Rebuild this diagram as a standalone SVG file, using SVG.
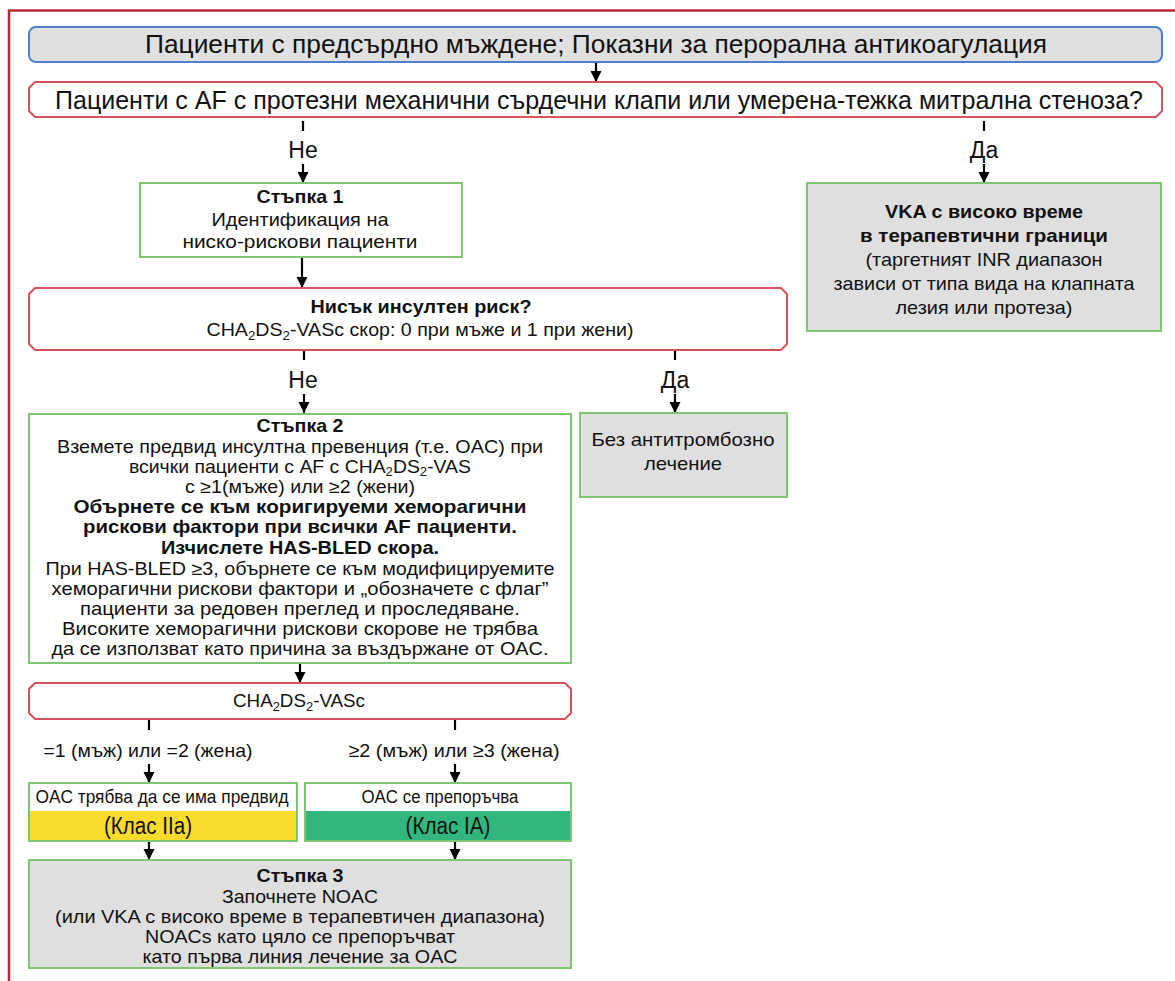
<svg xmlns="http://www.w3.org/2000/svg" width="1175" height="981" viewBox="0 0 1175 981">
  <style>
    text { font-family: "Liberation Sans", "Noto Sans", sans-serif; fill: #111; text-anchor: middle; }
    .b { font-weight: bold; }
    .big { font-size: 25px; }
    .lbl { font-size: 23px; }
    .t { font-size: 17.8px; }
    .s { font-size: 19px; }
    .dec { fill: #fff; stroke: #d9535f; stroke-width: 2; }
    .gbox { fill: #fff; stroke: #80c670; stroke-width: 2; }
    .ggrey { fill: #dfdfdf; stroke: #80c670; stroke-width: 2; }
    .conn line { stroke: #000; stroke-width: 2.2; }
    .tick { stroke: #000; stroke-width: 2.5; }
  </style>
  <defs>
    <marker id="ah" markerUnits="userSpaceOnUse" markerWidth="12" markerHeight="12" refX="11" refY="6" orient="auto">
      <path d="M0,0.5 L11,6 L0,11.5 Z" fill="#000"/>
    </marker>
  </defs>

  <!-- outer frame -->
  <g id="frame" fill="none" stroke="#b8283c" stroke-width="2.5">
    <path d="M9,981 L9,10.5 L1175,10.5"/>
  </g>

  <!-- connectors -->
  <g id="connectors" class="conn">
    <line x1="596" y1="62" x2="596" y2="82" marker-end="url(#ah)"/>
    <line class="tick" x1="303" y1="121" x2="303" y2="131"/>
    <text class="lbl" x="303" y="158">Не</text>
    <line x1="303" y1="164" x2="303" y2="183" marker-end="url(#ah)"/>
    <line class="tick" x1="984" y1="121" x2="984" y2="131"/>
    <text class="lbl" x="984" y="158">Да</text>
    <line x1="984" y1="164" x2="984" y2="183" marker-end="url(#ah)"/>
    <line x1="302" y1="257" x2="302" y2="288" marker-end="url(#ah)"/>
    <line class="tick" x1="304" y1="350" x2="304" y2="360"/>
    <text class="lbl" x="303" y="388">Не</text>
    <line x1="304" y1="394" x2="304" y2="413" marker-end="url(#ah)"/>
    <line class="tick" x1="675" y1="350" x2="675" y2="360"/>
    <text class="lbl" x="675" y="388">Да</text>
    <line x1="675" y1="394" x2="675" y2="413" marker-end="url(#ah)"/>
    <line x1="300" y1="663" x2="300" y2="683" marker-end="url(#ah)"/>
    <line class="tick" x1="149" y1="720" x2="149" y2="730"/>
    <text class="s" x="148" y="757" textLength="209" lengthAdjust="spacingAndGlyphs">=1 (мъж) или =2 (жена)</text>
    <line x1="149" y1="764" x2="149" y2="783" marker-end="url(#ah)"/>
    <line class="tick" x1="455" y1="720" x2="455" y2="730"/>
    <text class="s" x="454" y="757" textLength="211" lengthAdjust="spacingAndGlyphs">≥2 (мъж) или ≥3 (жена)</text>
    <line x1="455" y1="764" x2="455" y2="783" marker-end="url(#ah)"/>
    <line x1="149" y1="841" x2="149" y2="860" marker-end="url(#ah)"/>
    <line x1="455" y1="841" x2="455" y2="860" marker-end="url(#ah)"/>
  </g>

  <!-- start -->
  <g id="start">
    <rect x="29" y="27" width="1133" height="35" rx="7" fill="#e0e0e0" stroke="#4f80cc" stroke-width="2"/>
    <text class="big" x="596" y="53" textLength="902" lengthAdjust="spacingAndGlyphs">Пациенти с предсърдно мъждене;  Показни за перорална антикоагулация</text>
  </g>

  <!-- valve question -->
  <g id="valve-question">
    <path class="dec" d="M35,82 L1156,82 L1162,88 L1162,111 L1156,117 L35,117 L29,111 L29,88 Z"/>
    <text class="big" x="599" y="109" textLength="1088" lengthAdjust="spacingAndGlyphs">Пациенти с AF с протезни механични сърдечни клапи или умерена-тежка митрална стеноза?</text>
  </g>

  <!-- step 1 -->
  <g id="step1">
    <rect class="gbox" x="140" y="183" width="322" height="74"/>
    <text class="t b" x="300" y="203" textLength="87" lengthAdjust="spacingAndGlyphs">Стъпка 1</text>
    <text class="t" x="300" y="226" textLength="177" lengthAdjust="spacingAndGlyphs">Идентификация на</text>
    <text class="t" x="300" y="248" textLength="235" lengthAdjust="spacingAndGlyphs">ниско-рискови пациенти</text>
  </g>

  <!-- VKA -->
  <g id="vka">
    <rect class="ggrey" x="807" y="183" width="354" height="148"/>
    <text class="t b" x="984" y="218" textLength="198" lengthAdjust="spacingAndGlyphs">VKA с високо време</text>
    <text class="t b" x="984" y="242" textLength="248" lengthAdjust="spacingAndGlyphs">в терапевтични граници</text>
    <text class="t" x="984" y="266" textLength="237" lengthAdjust="spacingAndGlyphs">(таргетният INR диапазон</text>
    <text class="t" x="984" y="290" textLength="301" lengthAdjust="spacingAndGlyphs">зависи от типа вида на клапната</text>
    <text class="t" x="984" y="314" textLength="177" lengthAdjust="spacingAndGlyphs">лезия или протеза)</text>
  </g>

  <!-- low stroke risk question -->
  <g id="low-risk-question">
    <path class="dec" d="M35,288 L781,288 L787,294 L787,344 L781,350 L35,350 L29,344 L29,294 Z"/>
    <text class="t b" x="421" y="313" textLength="221" lengthAdjust="spacingAndGlyphs">Нисък инсултен риск?</text>
    <text class="t" x="420" y="336" textLength="427" lengthAdjust="spacingAndGlyphs">CHA<tspan font-size="12" dy="4">2</tspan><tspan dy="-4">DS</tspan><tspan font-size="12" dy="4">2</tspan><tspan dy="-4">-VASc скор: 0 при мъже и 1 при жени)</tspan></text>
  </g>

  <!-- no therapy -->
  <g id="no-therapy">
    <rect class="ggrey" x="580" y="413" width="207" height="84"/>
    <text class="t" x="683" y="446" textLength="183" lengthAdjust="spacingAndGlyphs">Без антитромбозно</text>
    <text class="t" x="683" y="470" textLength="78" lengthAdjust="spacingAndGlyphs">лечение</text>
  </g>

  <!-- step 2 -->
  <g id="step2">
    <rect class="gbox" x="29" y="414" width="542" height="249"/>
    <text class="t b" x="300" y="432" textLength="87" lengthAdjust="spacingAndGlyphs">Стъпка 2</text>
    <text class="t" x="300" y="453" textLength="486" lengthAdjust="spacingAndGlyphs">Вземете предвид инсултна превенция (т.е. OAC) при</text>
    <text class="t" x="300" y="473" textLength="342" lengthAdjust="spacingAndGlyphs">всички пациенти с AF с CHA<tspan font-size="12" dy="3">2</tspan><tspan dy="-3">DS</tspan><tspan font-size="12" dy="3">2</tspan><tspan dy="-3">-VAS</tspan></text>
    <text class="t" x="300" y="493" textLength="230" lengthAdjust="spacingAndGlyphs">с ≥1(мъже) или ≥2 (жени)</text>
    <text class="t b" x="300" y="513" textLength="453" lengthAdjust="spacingAndGlyphs">Обърнете се към коригируеми хеморагични</text>
    <text class="t b" x="300" y="533" textLength="434" lengthAdjust="spacingAndGlyphs">рискови фактори при всички AF пациенти.</text>
    <text class="t b" x="300" y="554" textLength="278" lengthAdjust="spacingAndGlyphs">Изчислете HAS-BLED скора.</text>
    <text class="t" x="300" y="575" textLength="509" lengthAdjust="spacingAndGlyphs">При HAS-BLED ≥3, обърнете се към модифицируемите</text>
    <text class="t" x="300" y="595" textLength="497" lengthAdjust="spacingAndGlyphs">хеморагични рискови фактори и „обозначете с флаг”</text>
    <text class="t" x="300" y="615" textLength="440" lengthAdjust="spacingAndGlyphs">пациенти за редовен преглед и проследяване.</text>
    <text class="t" x="300" y="635" textLength="476" lengthAdjust="spacingAndGlyphs">Високите хеморагични рискови скорове не трябва</text>
    <text class="t" x="300" y="655" textLength="497" lengthAdjust="spacingAndGlyphs">да се използват като причина за въздържане от OAC.</text>
  </g>

  <!-- CHA2DS2-VASc question -->
  <g id="score-question">
    <path class="dec" d="M35,683 L565,683 L571,689 L571,713 L565,719 L35,719 L29,713 L29,689 Z"/>
    <text class="s" x="299" y="707" textLength="132" lengthAdjust="spacingAndGlyphs">CHA<tspan font-size="13" dy="4">2</tspan><tspan dy="-4">DS</tspan><tspan font-size="13" dy="4">2</tspan><tspan dy="-4">-VASc</tspan></text>
  </g>

  <!-- class IIa -->
  <g id="class-iia">
    <rect x="29" y="783" width="268" height="58" fill="#fff" stroke="#80c670" stroke-width="2"/>
    <rect x="30" y="811" width="266" height="29" fill="#fbdb2c"/>
    <text class="s" x="162" y="803" textLength="253" lengthAdjust="spacingAndGlyphs">OAC трябва да се има предвид</text>
    <text class="lbl" x="148" y="834" textLength="88" lengthAdjust="spacingAndGlyphs">(Клас IIa)</text>
  </g>

  <!-- class IA -->
  <g id="class-ia">
    <rect x="305" y="783" width="266" height="58" fill="#fff" stroke="#80c670" stroke-width="2"/>
    <rect x="306" y="811" width="264" height="29" fill="#33b67d"/>
    <text class="s" x="440" y="803" textLength="157" lengthAdjust="spacingAndGlyphs">OAC се препоръчва</text>
    <text class="lbl" x="448" y="834" textLength="85" lengthAdjust="spacingAndGlyphs">(Клас IA)</text>
  </g>

  <!-- step 3 -->
  <g id="step3">
    <rect class="ggrey" x="29" y="860" width="542" height="108"/>
    <text class="t b" x="300" y="882" textLength="87" lengthAdjust="spacingAndGlyphs">Стъпка 3</text>
    <text class="t" x="300" y="903" textLength="156" lengthAdjust="spacingAndGlyphs">Започнете NOAC</text>
    <text class="t" x="300" y="923" textLength="490" lengthAdjust="spacingAndGlyphs">(или VKA с високо време в терапевтичен диапазона)</text>
    <text class="t" x="300" y="943" textLength="310" lengthAdjust="spacingAndGlyphs">NOACs като цяло се препоръчват</text>
    <text class="t" x="300" y="963" textLength="315" lengthAdjust="spacingAndGlyphs">като първа линия лечение за OAC</text>
  </g>
</svg>
